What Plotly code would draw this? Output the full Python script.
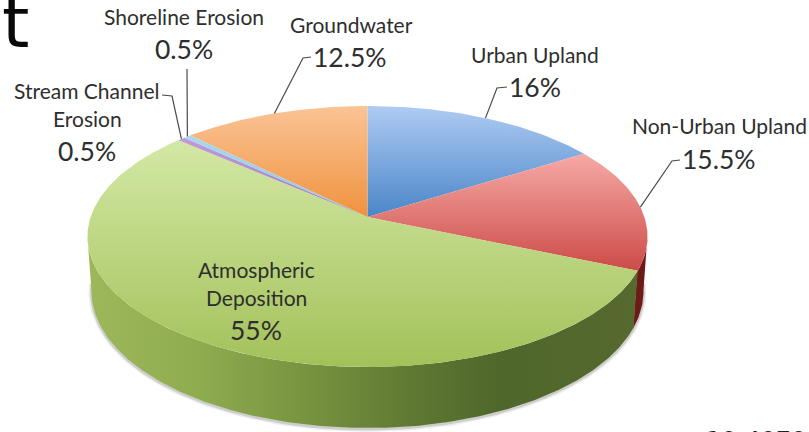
import numpy as np
import plotly.graph_objects as go

categories = ["Urban Upland", "Non-Urban Upland", "Atmospheric Deposition",
              "Stream Channel Erosion", "Shoreline Erosion", "Groundwater"]
values = [16, 15.5, 55, 0.5, 0.5, 12.5]
top_colors = [
    ["#AFCBF3", "#4A86C8"],
    ["#F6AAA6", "#CC4B47"],
    ["#D3E8A5", "#A3C15A"],
    ["#C39BD8", "#9A77B8"],
    ["#A9D8F0", "#8CC8E8"],
    ["#FAC496", "#F0923E"],
]

W, H = 809, 432
CX, CY = 367.5, 217.0
A, B, K = 276.9, 127.6, 0.1494   # perspective disc
DEPTH, M = 54.9, 0.0143


def project(frac, low=False):
    t = 2 * np.pi * np.asarray(frac, dtype=float)
    u, v = np.sin(t), np.cos(t)
    d = 1 + K * v + (M if low else 0)
    x = A * u / d
    y = (B * v - (DEPTH if low else 0)) / d
    return CX + x, CY - y


def arc(f0, f1):
    return np.linspace(f0, f1, max(int((f1 - f0) * 600), 4))


fr = np.array(values) / sum(values)
starts = np.concatenate([[0], np.cumsum(fr)[:-1]])
ends = np.cumsum(fr)
SIL_R, SIL_L = np.arccos(-K) / (2 * np.pi), 1 - np.arccos(-K) / (2 * np.pi)

fig = go.Figure()


def wall(f0, f1):
    f = arc(f0, f1)
    xa, ya = project(f)
    xb, yb = project(f[::-1], low=True)
    return np.r_[xa, xb, xa[0]], np.r_[ya, yb, ya[0]]


# soft shadow along the lower edge
fs = arc(SIL_R - 0.01, SIL_L + 0.01)
xs, ys = project(fs, low=True)
for wd, op in [(6, 0.10), (3, 0.22)]:
    fig.add_trace(go.Scatter(x=xs, y=ys + 1.0, mode="lines", hoverinfo="skip", showlegend=False,
                             line=dict(color=f"rgba(90,90,90,{op})", width=wd)))

# side walls
x, y = wall(SIL_R - 0.002, ends[1] + 0.001)
fig.add_trace(go.Scatter(x=x, y=y, mode="lines", fill="toself", line=dict(width=0),
                         fillcolor="#6E1A18", hoverinfo="skip", showlegend=False))
x, y = wall(starts[2], SIL_L)
fig.add_trace(go.Scatter(
    x=x, y=y, mode="lines", line=dict(width=0), fill="toself", hoverinfo="skip", showlegend=False,
    fillgradient=dict(type="horizontal", colorscale=[
        [0.0, "#9DB85A"], [0.2, "#8FAC4F"], [0.4, "#78933F"], [0.58, "#607A33"],
        [0.75, "#4F672B"], [1.0, "#56692F"]])))

# top face (vertical gradient runs bottom to top)
for name, s, e, col in zip(categories, starts, ends, top_colors):
    f = arc(s, e)
    xa, ya = project(f)
    fig.add_trace(go.Scatter(
        x=np.r_[CX, xa, CX], y=np.r_[CY, ya, CY], mode="lines", name=name,
        line=dict(width=0), fill="toself", showlegend=False,
        fillgradient=dict(type="vertical", colorscale=[[0, col[1]], [1, col[0]]])))

# leader lines, anchored on the rim at each slice's middle
elbows = {
    "Urban Upland": [(507, 87), (497, 88)],
    "Non-Urban Upland": [(680, 160), (672, 161)],
    "Stream Channel Erosion": [(162, 95), (172, 96)],
    "Shoreline Erosion": [(187, 69)],
    "Groundwater": [(311, 57), (303, 58)],
}
for name, pts in elbows.items():
    i = categories.index(name)
    rx, ry = project((starts[i] + ends[i]) / 2)
    px = [p[0] for p in pts] + [float(rx)]
    py = [p[1] for p in pts] + [float(ry)]
    fig.add_trace(go.Scatter(x=px, y=py, mode="lines", hoverinfo="skip", showlegend=False,
                             line=dict(color="#4A4A4A", width=1.2)))

FONT = "Lato, 'Open Sans', sans-serif"
labels = [
    ("Shoreline Erosion", 184, 16, 21), ("0.5%", 184, 49, 26.5),
    ("Groundwater", 351, 24, 21), ("12.5%", 350, 57, 26.5),
    ("Urban Upland", 535, 54, 21), ("16%", 535, 87, 26.5),
    ("Non-Urban Upland", 719, 125, 21), ("15.5%", 719, 159, 26.5),
    ("Stream Channel", 87, 90, 21), ("Erosion", 87, 118, 21), ("0.5%", 87, 151, 26.5),
    ("Atmospheric", 256, 269, 21), ("Deposition", 256, 297, 21), ("55%", 256, 330, 26.5),
]
for txt, lx, ly, sz in labels:
    fig.add_annotation(x=lx, y=ly, text=txt, showarrow=False, xanchor="center", yanchor="middle",
                       font=dict(family=FONT, size=sz, color="#2E2E2E"))

# cropped remnants of the surrounding slide
fig.add_annotation(x=0, y=23, text="t", showarrow=False, xanchor="left", yanchor="middle",
                   font=dict(family="'DejaVu Sans'", size=70, color="#0A0A0A"))
fig.add_annotation(x=704, y=431, yshift=6, text="10-4070", showarrow=False, xanchor="left", yanchor="top",
                   font=dict(family="'DejaVu Sans'", size=24, color="#222222"))

fig.update_layout(
    width=W, height=H, margin=dict(l=0, r=0, t=0, b=0),
    paper_bgcolor="white", plot_bgcolor="white",
    xaxis=dict(range=[0, W], visible=False, fixedrange=True),
    yaxis=dict(range=[H, 0], visible=False, fixedrange=True),
)
fig.write_html("out.html", config=dict(displayModeBar=False),
               post_script="document.body.style.margin='0';document.body.style.overflow='hidden';")
